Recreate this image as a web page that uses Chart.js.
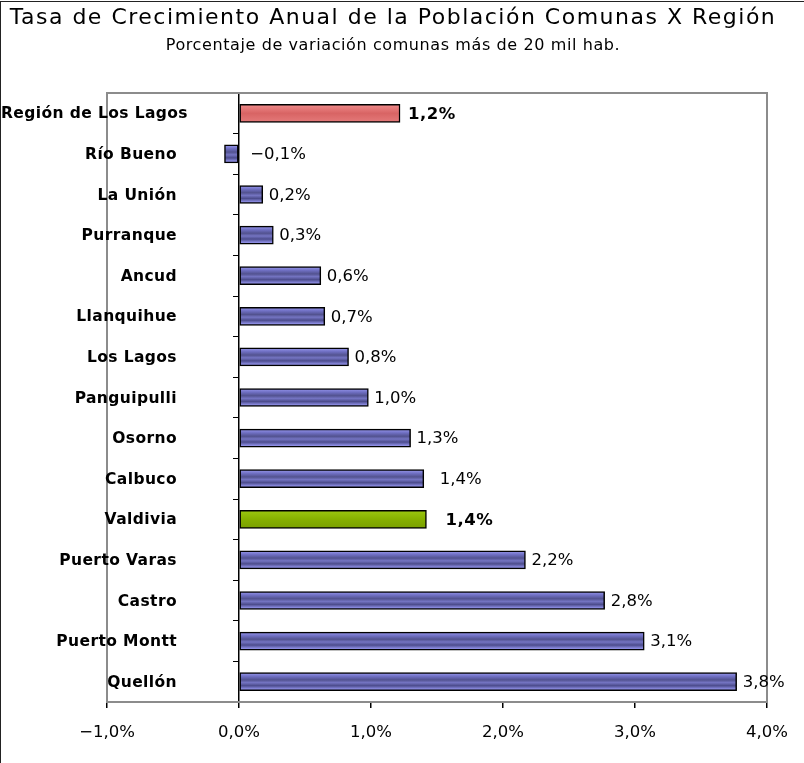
<!DOCTYPE html>
<html lang="es">
<head>
  <meta charset="UTF-8">
  <title>Tasa de Crecimiento Anual de la Población Comunas X Región</title>
  <script src="https://cdn.jsdelivr.net/npm/chart.js"></script>
  <style>
    body { margin: 0; background: #fff; font-family: "DejaVu Sans", sans-serif; }
    #wrap { position: relative; width: 804px; height: 763px; overflow: hidden; }
    #frame { position: absolute; left: 0; top: 1px; width: 804px; height: 763px; border-left: 1.5px solid #222; border-top: 1.5px solid #222; pointer-events: none; z-index: 2; }
    .title { position: absolute; left: 0; width: 786px; text-align: center; color: #000; z-index: 3; white-space: nowrap; }
    #t1 { top: 4px; font-size: 22px; letter-spacing: 1.5px; }
    #t2 { top: 35px; font-size: 16px; letter-spacing: 0.6px; }
    #chartBox { position: absolute; left: 0; top: 0; width: 804px; height: 763px; }
  </style>
</head>
<body>
<div id="wrap">
  <div id="frame"></div>
  <div id="t1" class="title">Tasa de Crecimiento Anual de la Población Comunas X Región</div>
  <div id="t2" class="title">Porcentaje de variación comunas más de 20 mil hab.</div>
  <div id="chartBox"><canvas id="chart"></canvas></div>
</div>
<script>
// data (percent)
const comunas = ['Región de Los Lagos', 'Río Bueno', 'La Unión', 'Purranque', 'Ancud', 'Llanquihue',
  'Los Lagos', 'Panguipulli', 'Osorno', 'Calbuco', 'Valdivia', 'Puerto Varas', 'Castro', 'Puerto Montt', 'Quellón'];
const tasas = [1.22, -0.11, 0.18, 0.26, 0.62, 0.65, 0.83, 0.98, 1.30, 1.40, 1.42, 2.17, 2.77, 3.07, 3.77];
const etiquetas = ['1,2%', '−0,1%', '0,2%', '0,3%', '0,6%', '0,7%', '0,8%', '1,0%', '1,3%', '1,4%', '1,4%', '2,2%', '2,8%', '3,1%', '3,8%'];
const xTicks = [-1, 0, 1, 2, 3, 4];

const BAR_T = 18;
const destacados = { 0: 'region', 10: 'valdivia' };
// gap between bar end and its label (a few labels sit further out in the original)
const labelGap = { 0: 8, 1: 12, 9: 16, 10: 19 };

function barFill(c) {
  const chart = c.chart;
  const kind = destacados[c.dataIndex];
  if (!chart.chartArea || c.dataIndex === undefined) return '#7070c0';
  const yc = chart.scales.y.getPixelForValue(c.dataIndex);
  const g = chart.ctx.createLinearGradient(0, yc - BAR_T / 2, 0, yc + BAR_T / 2);
  if (kind === 'region') {
    g.addColorStop(0, '#f08c8c'); g.addColorStop(0.5, '#d86464'); g.addColorStop(1, '#e47a7a');
  } else if (kind === 'valdivia') {
    g.addColorStop(0, '#9cc810'); g.addColorStop(0.5, '#86b000'); g.addColorStop(1, '#7aa000');
  } else {
    g.addColorStop(0, '#9a9aee'); g.addColorStop(0.2, '#7070c4'); g.addColorStop(0.4, '#52528f');
    g.addColorStop(0.55, '#7474c2'); g.addColorStop(0.72, '#4c4c8c'); g.addColorStop(0.9, '#8a8ae0');
    g.addColorStop(1, '#9a9aee');
  }
  return g;
}

const fmtPct = v => (v < 0 ? '−' : '') + Math.abs(v).toFixed(1).replace('.', ',') + '%';

const decor = {
  id: 'decor',
  beforeDatasetsDraw(chart) {
    const { ctx, chartArea: a } = chart;
    ctx.save();
    ctx.strokeStyle = '#8c8c8c';
    ctx.lineWidth = 2;
    ctx.strokeRect(a.left, a.top, a.right - a.left, a.bottom - a.top);
    ctx.restore();
  },
  afterDatasetsDraw(chart) {
    const ctx = chart.ctx;
    const meta = chart.getDatasetMeta(0);
    ctx.save();
    ctx.textBaseline = 'middle';
    ctx.fillStyle = '#000';
    meta.data.forEach((el, i) => {
      const bold = destacados[i] !== undefined;
      ctx.font = (bold ? 'bold 16.5px' : '16.5px') + ' "DejaVu Sans"';
      ctx.letterSpacing = bold ? '0.5px' : '0px';
      const gap = labelGap[i] !== undefined ? labelGap[i] : 6;
      ctx.fillText(etiquetas[i], Math.max(el.x, el.base) + gap, el.y + 1);
    });
    // category labels, right aligned, kept inside the frame
    const ys = chart.scales.y;
    ctx.font = 'bold 15.5px "DejaVu Sans"';
    ctx.letterSpacing = '0.4px';
    comunas.forEach((name, i) => {
      const w = ctx.measureText(name).width;
      const x = Math.max(177 - w, 1);
      ctx.fillText(name, x, ys.getPixelForValue(i) + 1);
    });
    ctx.restore();
  }
};

new Chart(document.getElementById('chart'), {
  type: 'bar',
  data: {
    labels: comunas,
    datasets: [{
      data: tasas,
      backgroundColor: barFill,
      borderColor: '#000',
      borderWidth: 1.5,
      borderSkipped: false,
      barThickness: BAR_T
    }]
  },
  options: {
    indexAxis: 'y',
    responsive: true,
    maintainAspectRatio: false,
    animation: false,
    events: [],
    layout: { padding: { top: 93, right: 37, left: 0, bottom: 0 } },
    plugins: { legend: { display: false }, tooltip: { enabled: false }, title: { display: false } },
    scales: {
      x: {
        position: 'bottom',
        min: -1, max: 4,
        afterBuildTicks: s => { s.ticks = xTicks.map(v => ({ value: v })); },
        afterFit: s => { s.height = 61; },
        grid: { drawOnChartArea: false, drawTicks: true, tickLength: 6, color: '#000', lineWidth: 1.5 },
        border: { display: true, color: '#000', width: 1.5 },
        ticks: { callback: v => fmtPct(v), color: '#000', font: { family: 'DejaVu Sans', size: 16.5 }, padding: 15, maxRotation: 0 }
      },
      y: {
        position: 'left',
        offset: true,
        afterFit: s => { s.width = 107; },
        grid: { display: false },
        border: { display: false },
        ticks: { display: false }
      },
      y2: {
        type: 'category',
        axis: 'y',
        position: { x: 0 },
        offset: true,
        afterFit: s => { s.width = 0; },
        grid: { offset: true, drawOnChartArea: false, drawTicks: true, tickLength: 5, color: '#000', lineWidth: 1 },
        border: { display: true, color: '#000', width: 1.5 },
        ticks: { display: false }
      }
    }
  },
  plugins: [decor]
});
</script>
</body>
</html>
